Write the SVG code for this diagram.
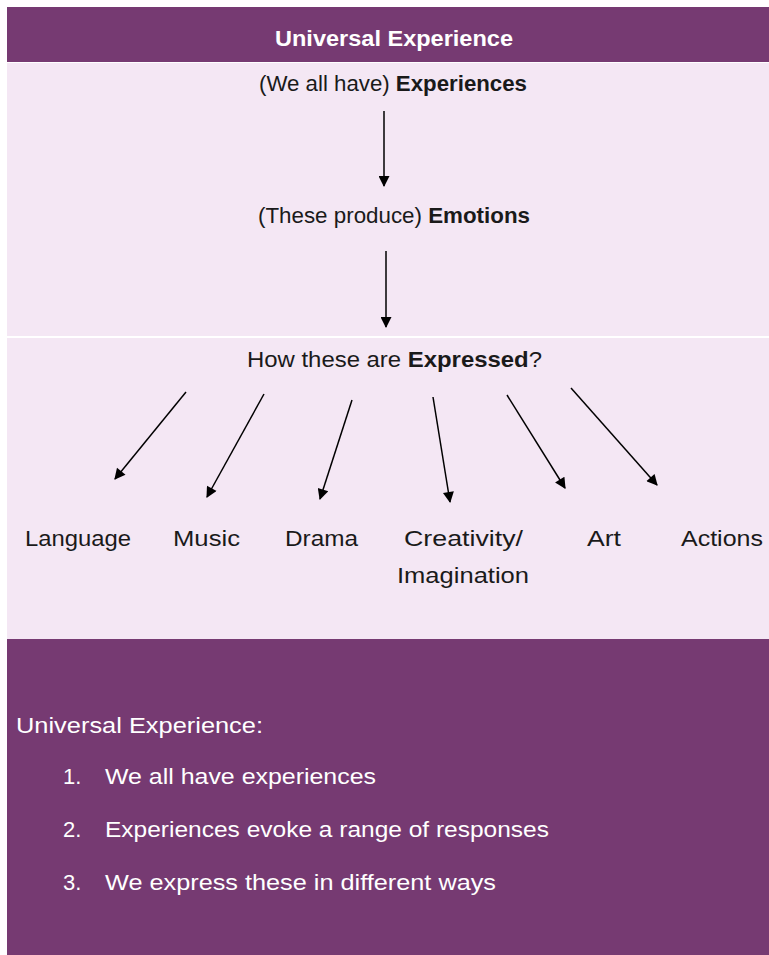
<svg xmlns="http://www.w3.org/2000/svg" width="769" height="955" viewBox="0 0 769 955">
<style>
.t{font-family:"Liberation Sans","Open Sans",sans-serif;font-size:22px;fill:#1a1a1a}
.b{font-weight:bold}
.w{fill:#ffffff}
.c{stroke:#000;stroke-width:1.5;fill:none;marker-end:url(#ah)}
</style>
<defs>
<marker id="ah" viewBox="0 0 10 10" refX="9" refY="5" markerWidth="13" markerHeight="11" markerUnits="userSpaceOnUse" orient="auto">
<path d="M0,0 L10,5 L0,10 z" fill="#000"/>
</marker>
</defs>
<rect x="0" y="0" width="769" height="955" fill="#ffffff"/>
<g id="header">
<rect x="7" y="7" width="762" height="55" fill="#763a72"/>
<text class="t b w" x="275" y="46" textLength="238" lengthAdjust="spacingAndGlyphs" font-size="21">Universal Experience</text>
</g>
<rect x="7" y="63" width="762" height="273" fill="#f4e7f4"/>
<rect x="7" y="338" width="762" height="301" fill="#f4e7f4"/>
<g id="experiences">
<text class="t" x="259" y="91" textLength="268" lengthAdjust="spacingAndGlyphs" font-size="20">(We all have) <tspan class="b">Experiences</tspan></text>
</g>
<g id="emotions">
<text class="t" x="258" y="223" textLength="272" lengthAdjust="spacingAndGlyphs" font-size="20">(These produce) <tspan class="b">Emotions</tspan></text>
</g>
<g id="expressed">
<text class="t" x="247" y="367" textLength="295" lengthAdjust="spacingAndGlyphs" font-size="23">How these are <tspan class="b">Expressed</tspan>?</text>
</g>
<g id="language"><text class="t" x="25" y="546" textLength="106" lengthAdjust="spacingAndGlyphs">Language</text></g>
<g id="music"><text class="t" x="173" y="546" textLength="67" lengthAdjust="spacingAndGlyphs">Music</text></g>
<g id="drama"><text class="t" x="285" y="546" textLength="73" lengthAdjust="spacingAndGlyphs">Drama</text></g>
<g id="creativity">
<text class="t" x="404" y="546" textLength="119" lengthAdjust="spacingAndGlyphs">Creativity/</text>
<text class="t" x="397" y="583" textLength="132" lengthAdjust="spacingAndGlyphs">Imagination</text>
</g>
<g id="art"><text class="t" x="587" y="546" textLength="34" lengthAdjust="spacingAndGlyphs">Art</text></g>
<g id="actions"><text class="t" x="681" y="546" textLength="82" lengthAdjust="spacingAndGlyphs">Actions</text></g>
<g id="connectors">
<line x1="384" y1="111" x2="384" y2="186" class="c"/>
<line x1="386" y1="251" x2="386" y2="327" class="c"/>
<line x1="186" y1="392" x2="115" y2="479" class="c"/>
<line x1="264" y1="394" x2="207" y2="497" class="c"/>
<line x1="352" y1="400" x2="320" y2="499" class="c"/>
<line x1="433" y1="397" x2="450" y2="502" class="c"/>
<line x1="507" y1="395" x2="565" y2="488" class="c"/>
<line x1="571" y1="388" x2="657" y2="485" class="c"/>
</g>
<g id="summary">
<rect x="7" y="639" width="762" height="316" fill="#763a72"/>
<text class="t w" x="16" y="733" textLength="247" lengthAdjust="spacingAndGlyphs">Universal Experience:</text>
<text class="t w" x="63" y="784">1.</text>
<text class="t w" x="105" y="784" textLength="271" lengthAdjust="spacingAndGlyphs">We all have experiences</text>
<text class="t w" x="63" y="837">2.</text>
<text class="t w" x="105" y="837" textLength="444" lengthAdjust="spacingAndGlyphs">Experiences evoke a range of responses</text>
<text class="t w" x="63" y="890">3.</text>
<text class="t w" x="105" y="890" textLength="391" lengthAdjust="spacingAndGlyphs">We express these in different ways</text>
</g>
</svg>
